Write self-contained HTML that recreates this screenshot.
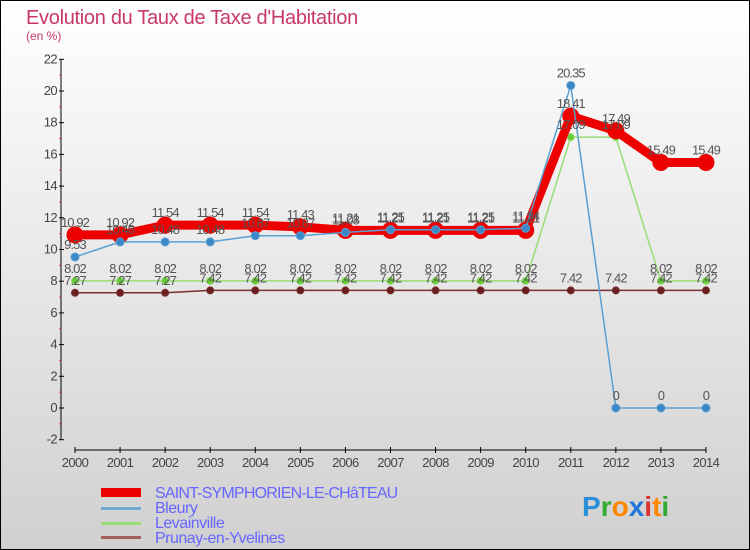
<!DOCTYPE html>
<html><head><meta charset="utf-8"><style>
body{margin:0}
#c{width:750px;height:550px;position:relative;overflow:hidden}
text{font-family:"Liberation Sans",sans-serif}
</style></head><body>
<div id="c">
<svg id="s" width="750" height="550" xmlns="http://www.w3.org/2000/svg">
<defs><linearGradient id="bg" x1="0" y1="0" x2="0" y2="1"><stop offset="0" stop-color="#ffffff"/><stop offset="1" stop-color="#d0d0d0"/></linearGradient></defs>
<rect x="0.5" y="0.5" width="749" height="549" fill="url(#bg)" stroke="#000"/>
<text x="26" y="24" font-size="20" fill="#c8386a" letter-spacing="-0.3">Evolution du Taux de Taxe d'Habitation</text>
<text x="26" y="40" font-size="12" fill="#c8386a">(en %)</text>
<g id="axes"></g><g id="series"></g><g id="labels"></g>
<g>
<rect x="101" y="488" width="40" height="9" fill="#e00"/>
<text x="155" y="498" font-size="16" fill="#6666ff" letter-spacing="-0.8">SAINT-SYMPHORIEN-LE-CHâTEAU</text>
<rect x="101" y="507" width="40" height="3" fill="#6fa8d0"/>
<text x="155" y="513" font-size="16" fill="#6666ff" letter-spacing="-0.5">Bleury</text>
<rect x="101" y="522" width="40" height="3" fill="#99dd77"/>
<text x="155" y="528" font-size="16" fill="#6666ff" letter-spacing="-0.5">Levainville</text>
<rect x="101" y="536" width="40" height="3" fill="#a06060"/>
<text x="155" y="543" font-size="16" fill="#6666ff" letter-spacing="-0.5">Prunay-en-Yvelines</text>
</g>
<text x="582" y="516" font-size="28" font-weight="bold"><tspan fill="#2a8fd8">P</tspan><tspan fill="#33aa33">r</tspan><tspan fill="#ff8800">o</tspan><tspan fill="#2277dd">x</tspan><tspan fill="#dd3333">i</tspan><tspan fill="#ff8800">t</tspan><tspan fill="#33aa33">i</tspan></text>
</svg></div>
<script>
const years=[2000,2001,2002,2003,2004,2005,2006,2007,2008,2009,2010,2011,2012,2013,2014];
const yTicks=[-2,0,2,4,6,8,10,12,14,16,18,20,22];
const saint=[10.92,10.92,11.54,11.54,11.54,11.43,11.21,11.21,11.21,11.21,11.21,18.41,17.49,15.49,15.49];
const bleury=[9.53,10.48,10.48,10.48,10.87,10.87,11.08,11.25,11.25,11.25,11.34,20.35,0,0,0];
const levain=[8.02,8.02,8.02,8.02,8.02,8.02,8.02,8.02,8.02,8.02,8.02,17.09,17.09,8.02,8.02];
const prunay=[7.27,7.27,7.27,7.42,7.42,7.42,7.42,7.42,7.42,7.42,7.42,7.42,7.42,7.42,7.42];
const NS="http://www.w3.org/2000/svg";
const X=i=>75+i*45.07, Y=v=>408-v*15.85;
function mk(tag,attrs,parent){const e=document.createElementNS(NS,tag);for(const k in attrs)e.setAttribute(k,attrs[k]);parent.appendChild(e);return e;}
const ax=document.getElementById('axes'),sg=document.getElementById('series'),lg=document.getElementById('labels');
let yl=mk('line',{x1:61,y1:Y(22),x2:61,y2:Y(-2),stroke:'#000'},ax);


let xl=mk('line',{x1:X(0),y1:450,x2:X(14),y2:450,stroke:'#000'},ax);


yTicks.forEach(v=>{
 mk('line',{x1:59,y1:Y(v),x2:64,y2:Y(v),stroke:'#000'},ax);
 if(v<22)mk('line',{x1:59,y1:Y(v+1),x2:61,y2:Y(v+1),stroke:'#e33'},ax);
 const t=mk('text',{x:57,y:Y(v)+4,'font-size':13,'text-anchor':'end',fill:'#444','letter-spacing':'-0.6'},ax);t.textContent=v;
 
 
});
years.forEach((yr,i)=>{
 mk('line',{x1:X(i),y1:447,x2:X(i),y2:453,stroke:'#000'},ax);
 const t=mk('text',{x:X(i),y:467,'font-size':13,'text-anchor':'middle',fill:'#444','letter-spacing':'-0.6'},ax);t.textContent=yr;
 
 
});
function series(data,color,w,r,dot,name){
 const p=mk('polyline',{points:data.map((v,i)=>X(i)+','+Y(v)).join(' '),fill:'none',stroke:color,'stroke-width':w,'stroke-linejoin':'round'},sg);
 
 
 data.forEach((v,i)=>{
  const c=mk('circle',{cx:X(i),cy:Y(v),r:r,fill:dot,stroke:color,'stroke-width':1},sg);
  
  
  const t=mk('text',{x:X(i),y:Y(v)-8,'font-size':13,'text-anchor':'middle',fill:'#555','letter-spacing':'-0.9'},lg);t.textContent=v;
  
  
 });
}
series(prunay,'#7a3030',1.5,3.5,'#6a1e1e','prunay');
series(levain,'#99dd77',1.5,3.5,'#66cc33','levainville');
series(saint,'#ee0000',9,8,'#ee0000','saint-symphorien');
series(bleury,'#5a9fd0',1.5,4,'#3a88c8','bleury');
</script>
</body></html>
